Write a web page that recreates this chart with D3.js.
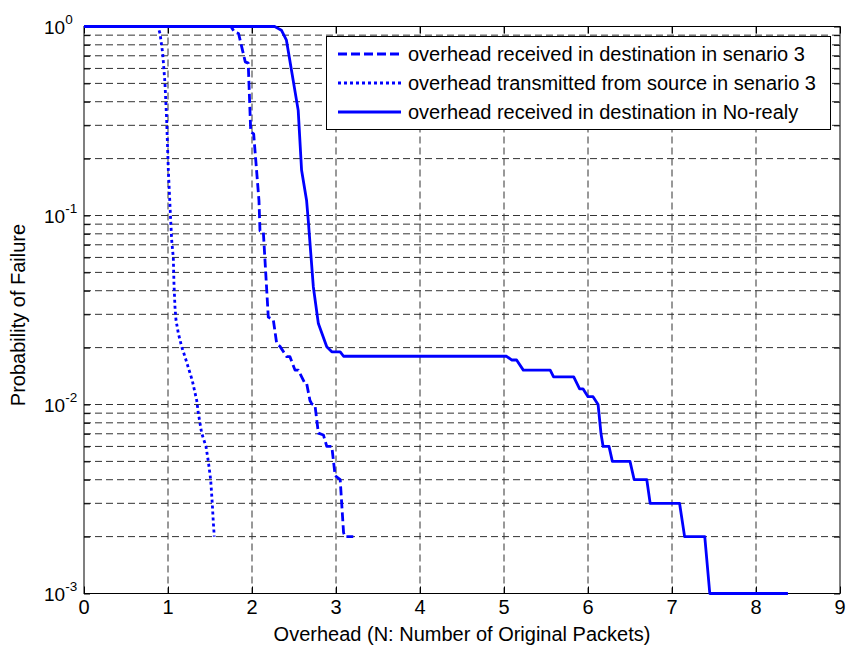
<!DOCTYPE html>
<html>
<head>
<meta charset="utf-8">
<script src="https://cdn.jsdelivr.net/npm/d3@7/dist/d3.min.js"></script>
<style>
  html, body { margin: 0; padding: 0; background: #fff; }
  svg { display: block; font-family: "Liberation Sans", Arial, sans-serif; }
</style>
</head>
<body>
<svg id="chart" width="848" height="653"></svg>
<script>
// Overhead (x) and probability of failure (y) for each curve
const destS3X = [0, 1.75, 1.79, 1.84, 1.92, 1.955, 1.985, 2.02, 2.083, 2.095, 2.135, 2.194, 2.254, 2.294, 2.333, 2.413, 2.452, 2.512, 2.551, 2.631, 2.651, 2.69, 2.71, 2.75, 2.79, 2.85, 2.89, 2.95, 2.99, 3.05, 3.09, 3.107, 3.206];
const destS3Y = [1, 1, 0.935, 0.918, 0.65, 0.64, 0.277, 0.27, 0.12, 0.083, 0.082, 0.029, 0.028, 0.021, 0.0203, 0.0179, 0.0179, 0.0152, 0.0152, 0.0129, 0.0129, 0.0105, 0.0101, 0.0099, 0.00706, 0.0069, 0.006, 0.006, 0.0042, 0.004, 0.0021, 0.002, 0.002];

const srcS3X = [0, 0.88, 0.905, 0.937, 0.964, 0.984, 1.004, 1.03, 1.044, 1.063, 1.071, 1.083, 1.095, 1.123, 1.163, 1.202, 1.289, 1.342, 1.361, 1.401, 1.452, 1.48, 1.508, 1.527, 1.539, 1.551];
const srcS3Y = [1, 1, 0.918, 0.72, 0.5, 0.32, 0.174, 0.098, 0.074, 0.06, 0.0437, 0.0328, 0.028, 0.0238, 0.0202, 0.0179, 0.0134, 0.0105, 0.009, 0.00705, 0.006, 0.005, 0.004, 0.003, 0.0024, 0.002];

const noRelayX = [0, 2.27, 2.35, 2.41, 2.47, 2.55, 2.59, 2.65, 2.67, 2.73, 2.79, 2.89, 2.95, 3.05, 3.09, 5.03, 5.09, 5.15, 5.23, 5.55, 5.59, 5.83, 5.9, 5.94, 6.0, 6.06, 6.12, 6.155, 6.18, 6.25, 6.29, 6.5, 6.55, 6.70, 6.74, 7.09, 7.15, 7.39, 7.45, 8.38];
const noRelayY = [1, 1, 0.956, 0.846, 0.587, 0.36, 0.174, 0.12, 0.094, 0.042, 0.0268, 0.0202, 0.019, 0.019, 0.018, 0.018, 0.0172, 0.0172, 0.0152, 0.0152, 0.014, 0.014, 0.0121, 0.0121, 0.011, 0.011, 0.01, 0.007, 0.006, 0.006, 0.005, 0.005, 0.004, 0.004, 0.003, 0.003, 0.002, 0.002, 0.001, 0.001];

const seriesNames = [
  "overhead received in destination in senario 3",
  "overhead transmitted from source in senario 3",
  "overhead received in destination in No-realy"
];

const xTicks = [0, 1, 2, 3, 4, 5, 6, 7, 8, 9];
const yTickExponents = [0, -1, -2, -3];

const svg = d3.select("#chart");
const padL = 84, padR = 840, padT = 26.5, padB = 593.5;

const x = d3.scaleLinear().domain([0, 9]).range([padL, padR]);
const y = d3.scaleLog().domain([1e-3, 1]).range([padB, padT]);

// minor + major log ticks
const yAllTicks = [];
for (let e = -3; e < 0; e++) {
  for (let m = 1; m <= 9; m++) yAllTicks.push(m * Math.pow(10, e));
}
yAllTicks.push(1);

// grid
const grid = svg.append("g").attr("stroke", "#111").attr("stroke-width", 1)
  .attr("stroke-dasharray", "7,4").attr("opacity", 0.85);
grid.selectAll("line.vg").data(xTicks.filter(d => d > 0 && d < 9)).join("line")
  .attr("x1", d => x(d)).attr("x2", d => x(d))
  .attr("y1", padT).attr("y2", padB);
grid.selectAll("line.hg").data(yAllTicks.filter(d => d > 1e-3 && d < 1)).join("line")
  .attr("x1", padL).attr("x2", padR)
  .attr("y1", d => y(d)).attr("y2", d => y(d));

// axes with inward ticks
const xAxisB = d3.axisBottom(x).tickValues(xTicks).tickSize(-7).tickFormat("");
const xAxisT = d3.axisTop(x).tickValues(xTicks).tickSize(-7).tickFormat("");
const yAxisL = d3.axisLeft(y).tickValues(yAllTicks).tickSize(-6).tickFormat("");
const yAxisR = d3.axisRight(y).tickValues(yAllTicks).tickSize(-6).tickFormat("");

function styleAxis(g) {
  g.selectAll("path.domain").remove();
  g.selectAll(".tick line").attr("stroke", "#000");
}
svg.append("g").attr("transform", `translate(0,${padB})`).call(xAxisB).call(styleAxis);
svg.append("g").attr("transform", `translate(0,${padT})`).call(xAxisT).call(styleAxis);
svg.append("g").attr("transform", `translate(${padL},0)`).call(yAxisL).call(styleAxis);
svg.append("g").attr("transform", `translate(${padR},0)`).call(yAxisR).call(styleAxis);

// axes box
svg.append("rect").attr("x", padL).attr("y", padT)
  .attr("width", padR - padL).attr("height", padB - padT)
  .attr("fill", "none").attr("stroke", "#000").attr("stroke-width", 1);

// x tick labels
svg.append("g").selectAll("text").data(xTicks).join("text")
  .attr("x", d => x(d)).attr("y", padB + 20)
  .attr("text-anchor", "middle")
  .attr("font-size", 20).attr("fill", "#000")
  .text(d => d);

// y tick labels as 10^n
const yl = svg.append("g").selectAll("text").data(yTickExponents).join("text")
  .attr("x", 44).attr("y", d => y(Math.pow(10, d)) + 7)
  .attr("font-size", 19).attr("fill", "#000");
yl.append("tspan").text("10");
yl.append("tspan").attr("dy", -10).attr("font-size", 13.5).text(d => d === 0 ? "0" : "-" + Math.abs(d));

// axis titles
svg.append("text").attr("x", (padL + padR) / 2).attr("y", 641)
  .attr("text-anchor", "middle").attr("font-size", 20).text("Overhead (N: Number of Original Packets)");
svg.append("text").attr("transform", `translate(25,315) rotate(-90)`)
  .attr("text-anchor", "middle").attr("font-size", 20).text("Probability of Failure");

// curves
const line = d3.line().x(d => x(d[0])).y(d => y(d[1]));
const series = [
  { xs: destS3X, ys: destS3Y, dash: "9,4" },
  { xs: srcS3X, ys: srcS3Y, dash: "3,3" },
  { xs: noRelayX, ys: noRelayY, dash: null }
];
const plot = svg.append("g");
series.forEach(s => {
  plot.append("path")
    .datum(s.xs.map((v, i) => [v, s.ys[i]]))
    .attr("d", line)
    .attr("fill", "none").attr("stroke", "#0000ff").attr("stroke-width", 2.8)
    .attr("stroke-linejoin", "round")
    .attr("stroke-dasharray", s.dash);
});

// legend
const lg = svg.append("g");
lg.append("rect").attr("x", 326.5).attr("y", 36.5).attr("width", 504).attr("height", 93)
  .attr("fill", "#fff").attr("stroke", "#000").attr("stroke-width", 1);
const rowsY = [54, 83, 112];
series.forEach((s, i) => {
  lg.append("line").attr("x1", 338).attr("x2", 401).attr("y1", rowsY[i]).attr("y2", rowsY[i])
    .attr("stroke", "#0000ff").attr("stroke-width", 2.8).attr("stroke-dasharray", s.dash);
  lg.append("text").attr("x", 408).attr("y", rowsY[i] + 7)
    .attr("font-size", 20).attr("fill", "#000").text(seriesNames[i]);
});
</script>
</body>
</html>
